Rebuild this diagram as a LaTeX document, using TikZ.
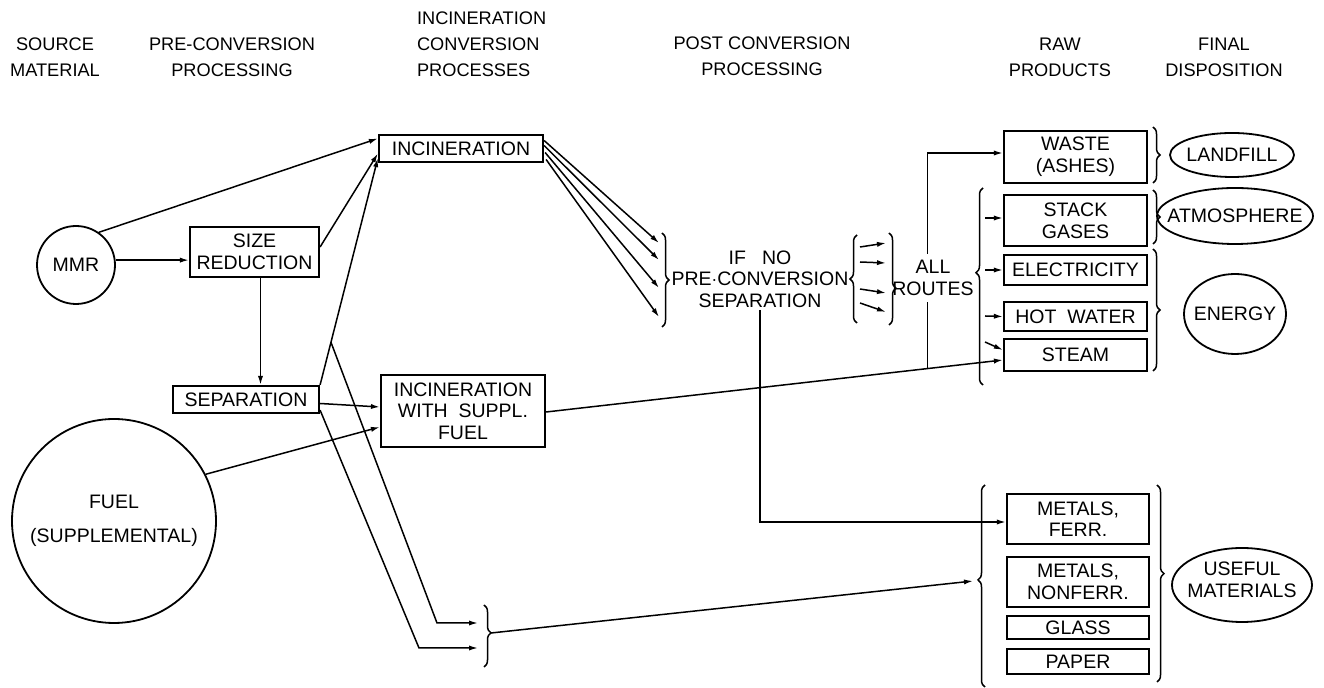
\documentclass[tikz,border=0pt]{standalone}
\usepackage{fontspec}
\setmainfont{Liberation Sans}
\usetikzlibrary{arrows.meta,calc,decorations.pathreplacing,shapes.geometric}
\begin{document}
\begin{tikzpicture}[x=0.5pt,y=-0.5pt,
  font=\fontsize{9.75}{10.8}\selectfont,
  box/.style={draw,line width=1.1pt,inner sep=0pt,align=center},
  hdr/.style={align=center,font=\fontsize{9.1}{13}\selectfont},
  txt/.style={align=center,inner sep=1pt},
  conn/.style={line width=0.75pt},
  arr/.style={conn,-{Latex[length=4.5pt,width=2.6pt]}},
  brc/.style={line width=0.75pt,decorate,decoration={brace,amplitude=3.5pt,aspect=#1}},
  brc/.default=0.5,
  outl/.style={line width=0.9pt}
]
\useasboundingbox (0,0) rectangle (1324,688);

% headers
\node[hdr] (h1) at (55,57) {SOURCE\\MATERIAL};
\node[hdr] (h2) at (232,57) {PRE-CONVERSION\\PROCESSING};
\node[hdr,align=left,anchor=west] (h3) at (410,44) {INCINERATION\\CONVERSION\\PROCESSES};
\node[hdr] (h4) at (762,56) {POST CONVERSION\\PROCESSING};
\node[hdr] (h5) at (1060,57) {RAW\\PRODUCTS};
\node[hdr] (h6) at (1224,57) {FINAL\\DISPOSITION};

% source material
\node[draw,circle,outl,minimum size=39pt,inner sep=0pt] (mmr) at (76,265) {MMR};
\node[draw,circle,outl,minimum size=102pt,inner sep=0pt,align=center] (fuel) at (114,521) {FUEL\\[6pt](SUPPLEMENTAL)};

% pre-conversion
\node[box,minimum width=64.5pt,minimum height=25pt] (sizered) at (254.5,252) {SIZE\\REDUCTION};
\node[box,minimum width=73pt,minimum height=13.5pt] (sep) at (246,399.5) {SEPARATION};

% conversion
\node[box,minimum width=82pt,minimum height=13.5pt] (incin) at (461,148.5) {INCINERATION};
\node[box,minimum width=82pt,minimum height=36pt] (incsup) at (463,411) {INCINERATION\\WITH\ \ SUPPL.\\FUEL};

% post conversion
\node[txt] (ifno) at (760,279) {IF\ \ \ NO\\PRE$\cdot$CONVERSION\\SEPARATION};
\node[txt,inner sep=3pt] (allr) at (933,278) {ALL\\ROUTES};

% raw products
\node[box,minimum width=71.5pt,minimum height=26pt] (waste) at (1075.5,157) {WASTE\\(ASHES)};
\node[box,minimum width=71.5pt,minimum height=25.5pt] (stack) at (1075.5,220.5) {STACK\\GASES};
\node[box,minimum width=71.5pt,minimum height=15pt] (elec) at (1075.5,270) {ELECTRICITY};
\node[box,minimum width=71.5pt,minimum height=14.5pt] (hotw) at (1075.5,316.5) {HOT\ \ WATER};
\node[box,minimum width=71.5pt,minimum height=16pt] (steam) at (1075.5,355) {STEAM};
\node[box,minimum width=71pt,minimum height=25pt] (mferr) at (1078,519) {METALS,\\FERR.};
\node[box,minimum width=71pt,minimum height=25pt] (mnon) at (1078,582) {METALS,\\NONFERR.};
\node[box,minimum width=71pt,minimum height=11.5pt] (glass) at (1078,627.5) {GLASS};
\node[box,minimum width=71pt,minimum height=12.5pt] (paper) at (1078,661.5) {PAPER};

% final disposition
\node[txt] (landfill) at (1232,155) {LANDFILL};
\draw[outl] (landfill.center) ellipse [x radius=62, y radius=22];
\node[txt] (atmos) at (1235,216) {ATMOSPHERE};
\draw[outl] (atmos.center) ellipse [x radius=78, y radius=28];
\node[txt] (energy) at (1235,314) {ENERGY};
\draw[outl] (energy.center) ellipse [x radius=51, y radius=40];
\node[txt] (useful) at (1242,580) {USEFUL\\MATERIALS};
\draw[outl] (1242,585) ellipse [x radius=70, y radius=37];

% ---- connectors, left part
\draw[arr] (mmr.55) -- ($(incin.west)+(0,-10)$);
\draw[arr] (mmr.7) -- (sizered.west |- mmr.7);
\draw[arr] ($(sizered.east)+(0,-5)$) -- ($(incin.west)+(0,5)$);
\coordinate (sr1) at ($(sizered.south)+(6,0)$);
\draw[arr] (sr1) -- (sr1 |- sep.north);
\coordinate (sepA) at (sep.north east);
\coordinate (incA) at ($(incin.south west)+(0,-5)$);
\draw[arr] (sepA) -- (incA);
\coordinate (b1) at ($(sepA)!0.188!(incA)$);
\draw[arr] ($(sep.east)+(0,4)$) -- ($(incsup.west)+(0,-4)$);
\draw[arr] (fuel.27) -- ($(incsup.west)+(0,16)$);

% lines to the lower brace
\coordinate (k1) at (437,623);
\coordinate (k2) at (419,648);
\coordinate (t1) at (478,623);
\coordinate (t2) at (478,648);
\coordinate (sepB) at ($(sep.south east)+(0,-4)$);
\draw[arr] (b1) -- (k1) -- (t1);
\draw[arr] (sepB) -- (k2) -- (t2);
\coordinate (br10a) at (484,605);
\coordinate (br10b) at (484,667);
\draw[brc=0.45] (br10a) -- (br10b);
\coordinate (br10tip) at (491,633);
\coordinate (br8tip) at (973,581);
\draw[arr] (br10tip) -- (br8tip);

% incineration -> post conversion brace
\coordinate (a1) at (659,243);
\coordinate (a2) at (659,260);
\coordinate (a3) at (659,288);
\coordinate (a4) at (659,317);
\draw[arr] ($(incin.east)+(0,-8)$) -- (a1);
\draw[arr] ($(incin.east)+(0,-3)$) -- (a2);
\draw[arr] ($(incin.east)+(1,4)$) -- (a3);
\draw[arr] ($(incin.east)+(2,11)$) -- (a4);
\draw[brc] (662,233) -- (662,327);

% braces around the four routes
\draw[brc] (857,323) -- (857,235);
\coordinate (r1s) at (860,247); \coordinate (r1e) at (886,243);
\coordinate (r2s) at (860,262); \coordinate (r2e) at (886,263);
\coordinate (r3s) at (860,289); \coordinate (r3e) at (886,293);
\coordinate (r4s) at (860,303); \coordinate (r4e) at (886,312);
\draw[arr] (r1s) -- (r1e);
\draw[arr] (r2s) -- (r2e);
\draw[arr] (r3s) -- (r3e);
\draw[arr] (r4s) -- (r4e);
\draw[brc=0.6] (889,233) -- (889,325);

% metals line from post conversion
\draw[arr] (ifno.south) |- ($(mferr.west)+(0,3)$);

% incineration with suppl. fuel -> steam
\coordinate (ls) at ($(incsup.east)+(0,1)$);
\coordinate (le) at ($(steam.west)+(0,5)$);
\draw[arr] (ls) -- (le);
\coordinate (vx) at ($(ls)!0.8344!(le)$);
\draw[conn] (vx) -- (vx |- allr.south);
\draw[arr] (vx |- allr.north) |- ($(waste.west)+(0,-4)$);

% energy brace
\draw[brc=0.57] (983,385) -- (983,188);
\coordinate (e1) at (985,218);
\coordinate (e2) at (985,270);
\coordinate (e3) at (985,316);
\coordinate (e4) at (985,342);
\draw[arr] (e1) -- ($(stack.west)+(0,-2.5)$);
\draw[arr] (e2) -- (elec.west);
\draw[arr] (e3) -- (hotw.west);
\draw[arr] (e4) -- ($(steam.west)+(0,-5)$);

% right braces
\draw[brc] (1153,127) -- (1153,183);
\draw[brc] (1153,190) -- (1153,244);
\draw[brc] (1153,249) -- (1153,371);
\draw[brc=0.53] (985,687) -- (985,485);
\draw[brc=0.45] (1157,485) -- (1157,682);
\end{tikzpicture}
\end{document}
